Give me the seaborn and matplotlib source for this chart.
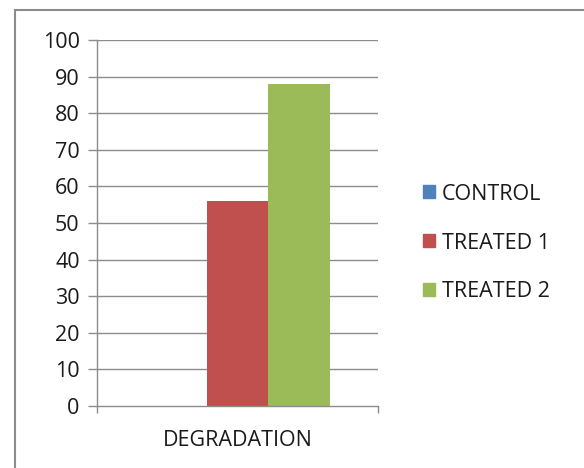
import pandas as pd
import matplotlib
matplotlib.use('Agg')
import matplotlib.pyplot as plt
import seaborn as sns
from matplotlib.patches import Rectangle

# datos
categorias = ['DEGRADATION']
series = ['CONTROL', 'TREATED 1', 'TREATED 2']
valores = [0, 56, 88]
colores = ['#4F81BD', '#C0504D', '#9BBB59']

df = pd.DataFrame({
    'categoria': categorias * len(series),
    'serie': series,
    'valor': valores,
})

sns.set_style('white')
plt.rcParams['font.family'] = ['Open Sans', 'DejaVu Sans']

fig = plt.figure(figsize=(5.84, 4.68), dpi=100)
ax = fig.add_axes([97 / 584, 1 - 406 / 468, 281 / 584, 366 / 468])

sns.barplot(data=df, x='categoria', y='valor', hue='serie',
            palette=colores, width=0.66, saturation=1,
            edgecolor='none', ax=ax, legend=False)

ax.set_xlim(-0.5, 0.5)
ax.set_ylim(0, 100)
ax.set_yticks(range(0, 101, 10))
ax.set_xlabel('')
ax.set_ylabel('')

gris = '#8c8c8c'
for y in range(10, 101, 10):
    ax.axhline(y, color=gris, lw=1, zorder=0)

for s in ['top', 'right']:
    ax.spines[s].set_visible(False)
for s in ['left', 'bottom']:
    ax.spines[s].set_color(gris)
    ax.spines[s].set_linewidth(1)

tam = 15.5
ax.tick_params(axis='y', length=6.5, width=1, color=gris, labelsize=tam,
               labelcolor='#1a1a1a', pad=6, left=True)
ax.set_xticks([0])
ax.set_xticks([-0.5, 0.5], minor=True)
ax.tick_params(axis='x', which='major', length=0, labelsize=tam,
               labelcolor='#1a1a1a', pad=17)
ax.tick_params(axis='x', which='minor', length=5, width=1, color=gris, bottom=True)

# leyenda
handles = [Rectangle((0, 0), 1, 1, color=c) for c in colores]
fig.legend(handles, series, loc='center left', bbox_to_anchor=(404 / 584, 1 - 243 / 468),
           frameon=False, fontsize=tam, labelspacing=1.3,
           handlelength=0.55, handleheight=0.55, handletextpad=0.3,
           labelcolor='#1a1a1a')

# borde del grafico
fig.add_artist(Rectangle((15 / 584, -0.1), 1.2, 1 - 10 / 468 + 0.1,
                         transform=fig.transFigure, fill=False,
                         edgecolor='#8c8c8c', lw=1.5))

fig.savefig('out.png', dpi=100)
